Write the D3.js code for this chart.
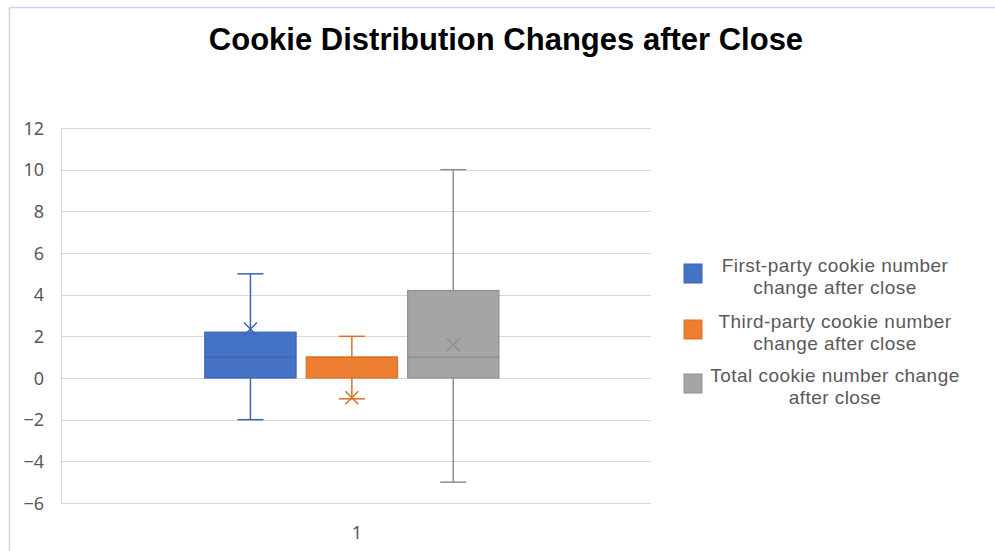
<!DOCTYPE html>
<html>
<head>
<meta charset="utf-8">
<script src="https://cdn.jsdelivr.net/npm/d3@7"></script>
<style>
  html, body { margin: 0; padding: 0; background: #fff; }
  svg { display: block; }
</style>
</head>
<body>
<svg id="chart" width="995" height="551"></svg>
<script>
// Box-plot statistics per series: min, Q1, median, Q3, max, mean
const categories = ["1"];
const seriesNames = [
  ["First-party cookie number", "change after close"],
  ["Third-party cookie number", "change after close"],
  ["Total cookie number change", "after close"]
];
const mins    = [-2, -1, -5];
const q1s     = [0, 0, 0];
const medians = [1, 1, 1];
const q3s     = [2.2, 1, 4.2];
const maxs    = [5, 2, 10];
const means   = [2.35, -0.95, 1.6];
const yTicks  = [-6, -4, -2, 0, 2, 4, 6, 8, 10, 12];
const fills   = ["#4472C4", "#ED7D31", "#A5A5A5"];
const strokes = ["#3A65B0", "#D9712B", "#8F8F8F"];

const svg = d3.select("#chart");
const font = "'Noto Sans', 'Liberation Sans', Arial, sans-serif";
const legendFont = "'Liberation Sans', Arial, sans-serif";

// outer chart frame
svg.append("rect")
  .attr("x", 9.5).attr("y", 7.5)
  .attr("width", 1000).attr("height", 600)
  .attr("fill", "#fff").attr("stroke", "#C9D6EE").attr("stroke-width", 1.5);

// title
svg.append("text")
  .attr("x", 506).attr("y", 50)
  .attr("text-anchor", "middle")
  .attr("font-family", "'Liberation Sans', Arial, sans-serif")
  .attr("font-weight", "bold")
  .attr("font-size", 31)
  .attr("fill", "#000")
  .text("Cookie Distribution Changes after Close");

const plot = { left: 61, right: 651, top: 128, bottom: 503 };

const y = d3.scaleLinear().domain([-6, 12]).range([plot.bottom, plot.top]);
const x = d3.scaleBand().domain(categories).range([plot.left, plot.right])
  .paddingInner(0).paddingOuter(0.503).align(0.486);
const xs = d3.scaleBand().domain(d3.range(seriesNames.length)).range([0, x.bandwidth()]).paddingInner(0.1).paddingOuter(0);

// horizontal gridlines
svg.append("g").selectAll("line").data(yTicks).join("line")
  .attr("x1", plot.left).attr("x2", plot.right)
  .attr("y1", d => Math.round(y(d)) + 0.5).attr("y2", d => Math.round(y(d)) + 0.5)
  .attr("stroke", "#D9D9D9").attr("stroke-width", 1);

// left axis line
svg.append("line")
  .attr("x1", plot.left + 0.5).attr("x2", plot.left + 0.5)
  .attr("y1", plot.top).attr("y2", plot.bottom)
  .attr("stroke", "#D9D9D9");

// y axis labels
const yAxis = d3.axisLeft(y).tickValues(yTicks).tickSize(0).tickPadding(17);
const gy = svg.append("g").attr("transform", `translate(${plot.left},0)`).call(yAxis);
gy.select(".domain").remove();
gy.selectAll("text")
  .attr("font-family", font).attr("font-size", 18).attr("fill", "#595959")
  .attr("dy", "0.35em");

// category label, centred under the plot area
const xAxis = d3.axisBottom(x).tickSize(0).tickPadding(23);
const gx = svg.append("g").attr("transform", `translate(0,${plot.bottom})`).call(xAxis);
gx.select(".domain").remove();
gx.selectAll(".tick").attr("transform", `translate(${(plot.left + plot.right) / 2 + 1},0)`);
gx.selectAll("text")
  .attr("font-family", font).attr("font-size", 18).attr("fill", "#595959");

// boxes
const data = seriesNames.map((n, i) => ({
  i, min: mins[i], q1: q1s[i], med: medians[i], q3: q3s[i], max: maxs[i], mean: means[i]
}));

const g = svg.append("g").attr("transform", `translate(${x("1")},0)`);
const capW = 26;

data.forEach(d => {
  const x0 = xs(d.i), w = xs.bandwidth(), cx = x0 + w / 2;
  const grp = g.append("g");
  // whiskers
  grp.append("line").attr("x1", cx).attr("x2", cx).attr("y1", y(d.max)).attr("y2", y(d.q3))
    .attr("stroke", strokes[d.i]).attr("stroke-width", 1.5);
  grp.append("line").attr("x1", cx).attr("x2", cx).attr("y1", y(d.q1)).attr("y2", y(d.min))
    .attr("stroke", strokes[d.i]).attr("stroke-width", 1.5);
  [d.max, d.min].forEach(v => {
    grp.append("line").attr("x1", cx - capW / 2).attr("x2", cx + capW / 2)
      .attr("y1", y(v)).attr("y2", y(v))
      .attr("stroke", strokes[d.i]).attr("stroke-width", 1.5);
  });
  // box
  grp.append("rect")
    .attr("x", x0).attr("width", w)
    .attr("y", y(d.q3)).attr("height", Math.max(0, y(d.q1) - y(d.q3)))
    .attr("fill", fills[d.i]).attr("stroke", strokes[d.i]).attr("stroke-width", 1.2);
  // median
  grp.append("line").attr("x1", x0).attr("x2", x0 + w)
    .attr("y1", y(d.med)).attr("y2", y(d.med))
    .attr("stroke", strokes[d.i]).attr("stroke-width", 1.5);
  // mean marker
  const m = 6.5, my = y(d.mean);
  grp.append("path")
    .attr("d", `M${cx - m},${my - m}L${cx + m},${my + m}M${cx - m},${my + m}L${cx + m},${my - m}`)
    .attr("stroke", strokes[d.i]).attr("stroke-width", 1.5).attr("fill", "none");
});

// legend: swatch plus two centred lines per series
const legend = svg.append("g");
const legendTop = [264, 320, 374];
seriesNames.forEach((lines, i) => {
  legend.append("rect")
    .attr("x", 684).attr("y", legendTop[i])
    .attr("width", 18).attr("height", 19)
    .attr("fill", fills[i]).attr("stroke", strokes[i]).attr("stroke-width", 1);
  lines.forEach((ln, k) => {
    legend.append("text")
      .attr("text-anchor", "middle")
      .attr("font-family", legendFont).attr("font-size", 19)
      .attr("letter-spacing", 0.45)
      .attr("fill", "#595959")
      .attr("x", 835).attr("y", legendTop[i] + 8 + k * 22)
      .text(ln);
  });
});
</script>
</body>
</html>
